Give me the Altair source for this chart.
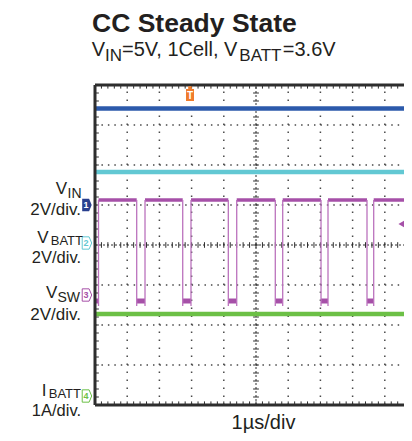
import altair as alt
import pandas as pd
import numpy as np

XMAX = 9.596                      # visible part of the 10 µs screen (1 µs/div)
YDIV = 8                          # vertical divisions
channels = ["VIN", "VBATT", "VSW", "IBATT"]
ground_div = [5.0, 4.05, 2.75, 0.225]      # channel ground markers (div from bottom)
units_per_div = [2.0, 2.0, 2.0, 1.0]       # 2V/div, 2V/div, 2V/div, 1A/div
flat_channels = ["VIN", "VBATT", "IBATT"]
flat_levels = [4.83, 3.55, 2.05]           # V, V, A
vsw_high = 4.75
vsw_low = -0.3
vsw_rise = [0.109, 1.553, 2.981, 4.401, 5.829, 7.236, 8.655]
vsw_fall = [1.295, 2.724, 4.140, 5.599, 7.019, 8.447]
trigger_t = 2.95
trigger_level_v = 3.55
marker_labels = ["1", "2", "3", "4"]

# ---------------- styling ----------------
FONT = "Liberation Sans"
TXT = "#231f20"
COL = {"VIN": "#2c5aab", "VBATT": "#62c8d3", "VSW": "#a650a8", "IBATT": "#6cc046"}
EDGE = "#bb72bd"
NAVY = "#283f8e"
ORANGE = "#f07c2c"
FRAME = "#2e2e2e"
DOT = "#4a4a4a"

gidx = {c: i for i, c in enumerate(channels)}


def ydiv(ch, v):
    i = gidx[ch]
    return ground_div[i] + v / units_per_div[i]


xs = alt.Scale(domain=[0, XMAX], nice=False, zero=False)
ys = alt.Scale(domain=[0, YDIV], nice=False, zero=False)


def seg_encode(ch):
    return ch.encode(
        x=alt.X("x:Q", scale=xs, axis=None),
        x2="x2:Q",
        y=alt.Y("y:Q", scale=ys, axis=None),
        y2="y2:Q",
    )


# ---- frame, grid and ticks ----
frame_df = pd.DataFrame({
    "x": [0, 0, 0], "x2": [0, XMAX, XMAX],
    "y": [0, YDIV, 0], "y2": [YDIV, YDIV, 0],
})
frame = seg_encode(alt.Chart(frame_df).mark_rule(color=FRAME, strokeWidth=3))

vg = [1, 2, 3, 4, 6, 7, 8, 9]
vgrid_df = pd.DataFrame({"x": vg, "x2": vg, "y": [0] * len(vg), "y2": [YDIV] * len(vg)})
vgrid = seg_encode(alt.Chart(vgrid_df).mark_rule(color=DOT, strokeWidth=1.5, strokeDash=[1.5, 6.5]))

hg = [1, 2, 3, 5, 6, 7]
hgrid_df = pd.DataFrame({"x": [0] * len(hg), "x2": [XMAX] * len(hg), "y": hg, "y2": hg})
hgrid = seg_encode(alt.Chart(hgrid_df).mark_rule(color=DOT, strokeWidth=1.5, strokeDash=[1.5, 4.94]))

center_df = pd.DataFrame({"x": [5, 0], "x2": [5, XMAX], "y": [0, 4], "y2": [YDIV, 4]})
center = seg_encode(alt.Chart(center_df).mark_rule(color=FRAME, strokeWidth=1, strokeDash=[2, 2]))

yt = np.round(np.arange(0.2, YDIV, 0.2), 3)
xt = np.round(np.arange(0.2, XMAX, 0.2), 3)
ticks = []
for y in yt:
    ticks.append((0, 0.12, y, y))          # left edge
    ticks.append((4.91, 5.09, y, y))       # centre vertical
for x in xt:
    ticks.append((x, x, YDIV, YDIV - 0.09))  # top edge
    ticks.append((x, x, 0, 0.09))            # bottom edge
    ticks.append((x, x, 3.93, 4.07))         # centre horizontal
ticks_df = pd.DataFrame(ticks, columns=["x", "x2", "y", "y2"])
tick_layer = seg_encode(alt.Chart(ticks_df).mark_rule(color=FRAME, strokeWidth=1))

# ---- traces ----
flat_df = pd.DataFrame({
    "ch": flat_channels,
    "x": [0.0] * 3, "x2": [XMAX] * 3,
    "y": [ydiv(c, v) for c, v in zip(flat_channels, flat_levels)],
})
cscale = alt.Scale(domain=channels, range=[COL[c] for c in channels])
flat = alt.Chart(flat_df).mark_rule(strokeWidth=4.5).encode(
    x=alt.X("x:Q", scale=xs, axis=None), x2="x2:Q",
    y=alt.Y("y:Q", scale=ys, axis=None),
    color=alt.Color("ch:N", scale=cscale, legend=None),
)

hi_y = ydiv("VSW", vsw_high)
lo_y = ydiv("VSW", vsw_low)
high_df = pd.DataFrame({"x": vsw_rise, "x2": vsw_fall + [XMAX]})
high_df["y"] = hi_y
low_df = pd.DataFrame({"x": [0.0] + vsw_fall, "x2": vsw_rise})
low_df["y"] = lo_y
edge_df = pd.DataFrame({"x": vsw_rise + vsw_fall})
edge_df["y"] = ydiv("VSW", vsw_low - 0.25)
edge_df["y2"] = hi_y

vsw_high_l = alt.Chart(high_df).mark_rule(color=COL["VSW"], strokeWidth=3.5).encode(
    x=alt.X("x:Q", scale=xs, axis=None), x2="x2:Q", y=alt.Y("y:Q", scale=ys, axis=None))
vsw_low_l = alt.Chart(low_df).mark_rule(color=COL["VSW"], strokeWidth=5).encode(
    x=alt.X("x:Q", scale=xs, axis=None), x2="x2:Q", y=alt.Y("y:Q", scale=ys, axis=None))
vsw_edge_l = alt.Chart(edge_df).mark_rule(color=EDGE, strokeWidth=1.3).encode(
    x=alt.X("x:Q", scale=xs, axis=None), y=alt.Y("y:Q", scale=ys, axis=None), y2="y2:Q")

# ---- channel markers ----
mk_df = pd.DataFrame({"ch": channels, "lab": marker_labels, "y": ground_div})
mk_df["x"] = -0.25
TAG = "M-1,-1.3 L0.45,-1.3 L1,0 L0.45,1.3 L-1,1.3 Z"
mk1 = alt.Chart(mk_df[mk_df.ch == "VIN"]).mark_point(
    shape=TAG, size=90, filled=True, color=NAVY, opacity=1).encode(
    x=alt.X("x:Q", scale=xs, axis=None), y=alt.Y("y:Q", scale=ys, axis=None))
mk1t = alt.Chart(mk_df[mk_df.ch == "VIN"]).mark_text(
    color="white", fontSize=9, fontWeight="bold", font=FONT, dx=-1).encode(
    x=alt.X("x:Q", scale=xs, axis=None), y=alt.Y("y:Q", scale=ys, axis=None), text="lab:N")
others = mk_df[mk_df.ch != "VIN"]
mko = alt.Chart(others).mark_point(shape=TAG, size=90, filled=False, strokeWidth=1,
                                   fill="white", opacity=1).encode(
    x=alt.X("x:Q", scale=xs, axis=None), y=alt.Y("y:Q", scale=ys, axis=None),
    stroke=alt.Color("ch:N", scale=cscale, legend=None))
mkot = alt.Chart(others).mark_text(fontSize=9, fontWeight="bold", font=FONT, dx=-1).encode(
    x=alt.X("x:Q", scale=xs, axis=None), y=alt.Y("y:Q", scale=ys, axis=None), text="lab:N",
    color=alt.Color("ch:N", scale=cscale, legend=None))

# trigger position (top) and trigger level (right)
trig_df = pd.DataFrame({"x": [trigger_t], "y": [7.75], "lab": ["T"]})
TRIG = "M-0.45,-2.2 L0.45,-2.2 L0.45,-1.5 L1,-1.5 L1,1.5 L-1,1.5 L-1,-1.5 L-0.45,-1.5 Z"
trig = alt.Chart(trig_df).mark_point(shape=TRIG, size=64, filled=True, color=ORANGE, opacity=1).encode(
    x=alt.X("x:Q", scale=xs, axis=None), y=alt.Y("y:Q", scale=ys, axis=None))
trigt = alt.Chart(trig_df).mark_text(color="white", fontSize=10, fontWeight="bold", font=FONT, dy=1).encode(
    x=alt.X("x:Q", scale=xs, axis=None), y=alt.Y("y:Q", scale=ys, axis=None), text="lab:N")
lvl_df = pd.DataFrame({"x": [XMAX - 0.06], "y": [ydiv("VSW", trigger_level_v)]})
lvl = alt.Chart(lvl_df).mark_point(shape="triangle-left", size=70, filled=True,
                                   color=COL["VSW"], opacity=1).encode(
    x=alt.X("x:Q", scale=xs, axis=None), y=alt.Y("y:Q", scale=ys, axis=None))

# ---- texts ----
one = pd.DataFrame({"a": [0]})


def txt(s, x, y, size, align="left", weight="normal"):
    return alt.Chart(one).mark_text(
        text=s, align=align, baseline="alphabetic", font=FONT, fontSize=size,
        fontWeight=weight, color=TXT).encode(x=alt.value(x), y=alt.value(y))


texts = [
    txt("CC Steady State", -3, -53, 26.5, weight="bold"),
    txt("V", -3.3, -29, 20), txt("IN", 10.0, -24, 17),
    txt("=5V, 1Cell, V", 27.0, -29, 20), txt("BATT", 144.3, -24, 17),
    txt("=3.6V", 187.8, -29, 20),
    # channel labels
    txt("V", -28, 109, 17, "right"), txt("IN", -13.5, 113, 14, "right"),
    txt("2V/div.", -14, 130, 17, "right"),
    txt("V", -46.5, 157.7, 17, "right"), txt("BATT", -12, 160, 13, "right"),
    txt("2V/div.", -14, 177.7, 16.5, "right"),
    txt("V", -37.6, 213, 17, "right"), txt("SW", -15, 217, 14, "right"),
    txt("2V/div.", -14, 235, 17, "right"),
    txt("I", -48.5, 311, 17, "right"), txt("BATT", -14, 312.5, 13, "right"),
    txt("1A/div.", -14, 330.5, 16.5, "right"),
    txt("1µs/div", 168.5, 344, 20, "center"),
]

chart = alt.layer(
    vgrid, hgrid, center, tick_layer,
    flat, vsw_low_l, vsw_high_l, vsw_edge_l,
    frame, mk1, mk1t, mko, mkot, trig, trigt, lvl,
    *texts,
).properties(
    width=309, height=320,
    padding={"left": 87, "top": 77, "right": 0, "bottom": 28},
    autosize=alt.AutoSizeParams(type="none"),
    background="white",
).configure_view(stroke=None)

chart.save("out.html", embed_options={"renderer": "svg", "actions": False})
